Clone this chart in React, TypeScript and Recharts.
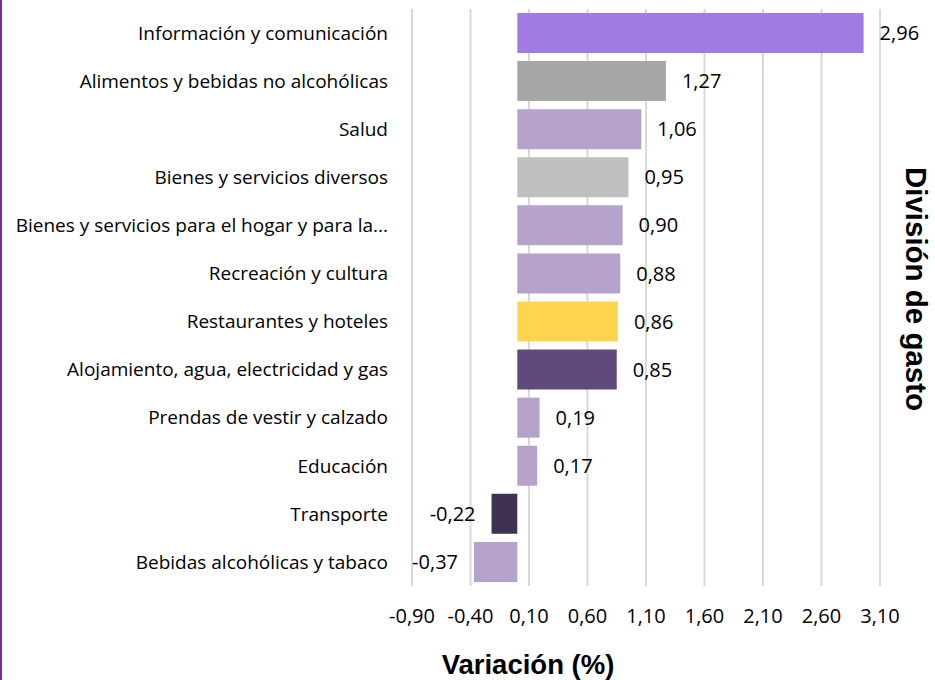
import { BarChart, Bar, XAxis, YAxis, CartesianGrid, Cell, LabelList } from 'recharts';

const categories = [
  'Información y comunicación',
  'Alimentos y bebidas no alcohólicas',
  'Salud',
  'Bienes y servicios diversos',
  'Bienes y servicios para el hogar y para la...',
  'Recreación y cultura',
  'Restaurantes y hoteles',
  'Alojamiento, agua, electricidad y gas',
  'Prendas de vestir y calzado',
  'Educación',
  'Transporte',
  'Bebidas alcohólicas y tabaco',
];
const values = [2.96, 1.27, 1.06, 0.95, 0.9, 0.88, 0.86, 0.85, 0.19, 0.17, -0.22, -0.37];
const colors = ['#A07CE2', '#A6A6A6', '#B4A2CB', '#BFBFBF', '#B4A2CB', '#B4A2CB', '#FFD54F', '#604A7B', '#B4A2CB', '#B4A2CB', '#3F3151', '#B4A2CB'];
const xTicks = [-0.9, -0.4, 0.1, 0.6, 1.1, 1.6, 2.1, 2.6, 3.1];

const data = categories.map((name, i) => ({ name, value: values[i] }));
const fmt = (v: number) => v.toFixed(2).replace('.', ',');
const FONT = '"Open Sans", sans-serif';
const BOLD = '"Liberation Sans", Arial, sans-serif';

export default function App() {
  return (
    <div style={{ position: 'relative', width: 935, height: 680, background: '#fff' }}>
      <style>{`body{margin:0}`}</style>
      <div style={{ position: 'absolute', left: 0, top: 0, width: 2, height: 680, background: '#7030A0', zIndex: 2 }} />
      <BarChart width={935} height={680} data={data} layout="vertical" margin={{ top: 9, right: 0, bottom: 0, left: 0 }} barSize={40}>
        <CartesianGrid horizontal={false} stroke="#D9D9D9" strokeWidth={2} />
        <XAxis
          type="number"
          domain={[-0.9, 3.1]}
          ticks={xTicks}
          tickFormatter={fmt}
          axisLine={false}
          tickLine={false}
          tickSize={0}
          tickMargin={23}
          height={94}
          tick={{ fill: '#000', fontSize: 20, fontFamily: FONT }}
          label={{ value: 'Variación (%)', position: 'insideBottom', offset: 6, dx: -118, style: { fill: '#000', fontSize: 27.5, fontWeight: 700, fontFamily: BOLD } }}
        />
        <YAxis
          type="category"
          dataKey="name"
          width={412}
          axisLine={false}
          tickLine={false}
          tickSize={0}
          tickMargin={24}
          interval={0}
          tick={{ fill: '#000', fontSize: 19, fontFamily: FONT }}
        />
        <YAxis
          yAxisId="r"
          orientation="right"
          type="category"
          dataKey="name"
          width={55}
          axisLine={false}
          tickLine={false}
          tick={false}
          label={{
            content: () => (
              <text x={916} y={289} transform="rotate(90 916 289)" textAnchor="middle" dominantBaseline="central" fill="#000" fontSize={29.5} fontWeight={700} fontFamily={BOLD}>
                División de gasto
              </text>
            ),
          }}
        />
        <Bar dataKey="value" isAnimationActive={false}>
          {data.map((d, i) => (
            <Cell key={d.name} fill={colors[i]} />
          ))}
          <LabelList dataKey="value" position="right" offset={16} formatter={(v: number) => fmt(v)} style={{ fill: '#000', fontSize: 20, fontFamily: FONT }} />
        </Bar>
      </BarChart>
    </div>
  );
}
